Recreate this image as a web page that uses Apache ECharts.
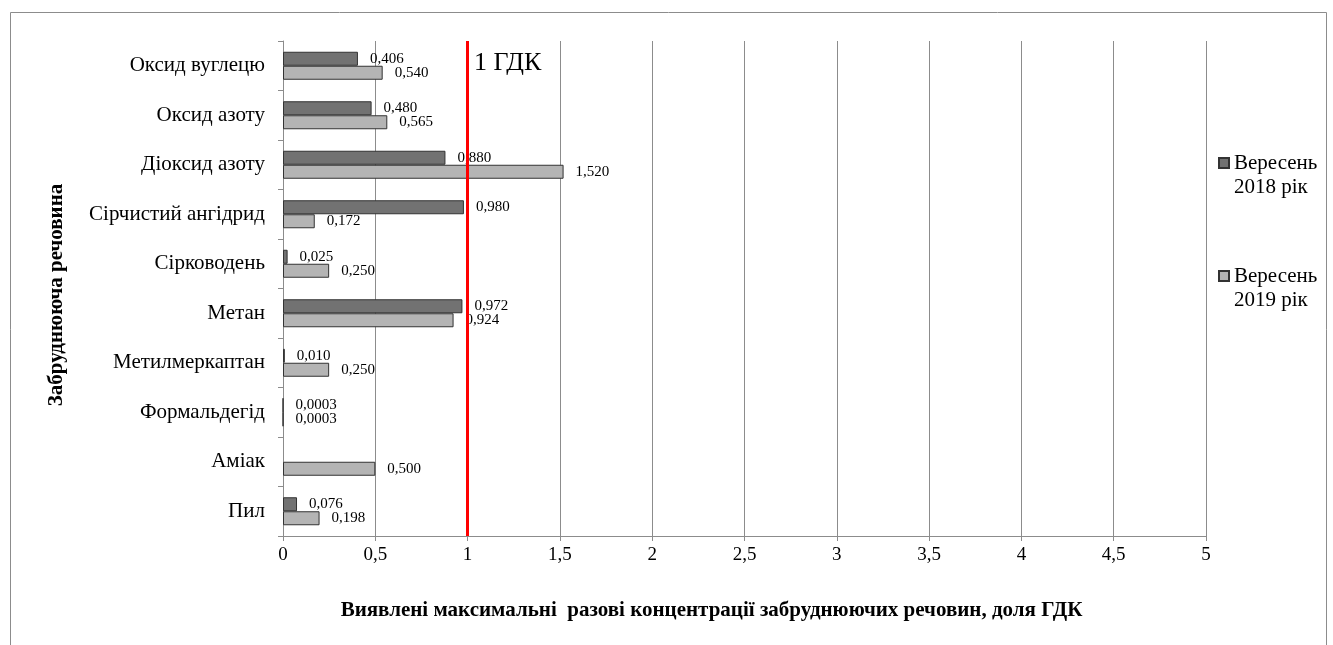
<!DOCTYPE html>
<html>
<head>
<meta charset="utf-8">
<script src="https://cdn.jsdelivr.net/npm/echarts@6/dist/echarts.min.js"></script>
<style>
  html, body { margin: 0; padding: 0; background: #fff; }
  #chart { width: 1333px; height: 645px; }
</style>
</head>
<body>
<div id="chart"></div>
<script>
// Pollutants and their maximum one-off concentrations (fraction of the limit value)
const categories = [
  'Оксид вуглецю', 'Оксид азоту', 'Діоксид азоту', 'Сірчистий ангідрид',
  'Сірководень', 'Метан', 'Метилмеркаптан', 'Формальдегід', 'Аміак', 'Пил'
];
const seriesNames = ['Вересень\n2018 рік', 'Вересень\n2019 рік'];
const sept2018 = [0.406, 0.480, 0.880, 0.980, 0.025, 0.972, 0.010, 0.0003, null, 0.076];
const sept2019 = [0.540, 0.565, 1.520, 0.172, 0.250, 0.924, 0.250, 0.0003, 0.500, 0.198];
const limitValue = 1;
const limitText = '1 ГДК';
const xAxisTitle = 'Виявлені максимальні  разові концентрації забруднюючих речовин, доля ГДК';
const yAxisTitle = 'Забруднююча речовина';

const serif = "'Liberation Serif', 'Times New Roman', serif";
const comma = s => String(s).replace('.', ',');
const fmtValue = v => comma(v < 0.001 ? v.toFixed(4) : v.toFixed(3));

const chart = echarts.init(document.getElementById('chart'), null, { renderer: 'canvas' });

const barLabel = {
  show: true,
  position: 'right',
  distance: 12,
  fontFamily: serif,
  fontSize: 15,
  color: '#000',
  formatter: p => fmtValue(p.value)
};

chart.setOption({
  animation: false,
  backgroundColor: '#fff',
  grid: { left: 283, right: 127, top: 41, bottom: 109, containLabel: false },
  legend: {
    orient: 'vertical',
    left: 1218,
    top: 127,
    padding: 0,
    itemWidth: 10,
    itemHeight: 10,
    itemGap: 41,
    icon: 'rect',
    // leading blank line keeps the swatch level with the first text line
    formatter: name => '\u00a0\n' + name,
    textStyle: { fontFamily: serif, fontSize: 21, color: '#000', lineHeight: 24 },
    data: seriesNames
  },
  xAxis: {
    type: 'value',
    min: 0, max: 5, interval: 0.5,
    axisLine: { show: true, lineStyle: { color: '#8c8c8c', width: 1 } },
    axisTick: { show: true, length: 5, lineStyle: { color: '#8c8c8c' } },
    splitLine: { show: true, lineStyle: { color: '#8c8c8c', width: 1 } },
    axisLabel: { fontFamily: serif, fontSize: 19, color: '#000', margin: 10, formatter: v => comma(v) },
    name: xAxisTitle,
    nameLocation: 'middle',
    nameGap: 64,
    nameTextStyle: { fontFamily: serif, fontSize: 21, fontWeight: 'bold', color: '#000', padding: [0, 66, 0, 0] }
  },
  yAxis: {
    type: 'category',
    inverse: true,
    data: categories,
    axisLine: { show: true, lineStyle: { color: '#8c8c8c', width: 1 } },
    axisTick: { show: true, length: 5, lineStyle: { color: '#8c8c8c' } },
    axisLabel: { fontFamily: serif, fontSize: 21, color: '#000', margin: 18 },
    name: yAxisTitle,
    nameLocation: 'middle',
    nameRotate: 90,
    nameGap: 216,
    nameTextStyle: { fontFamily: serif, fontSize: 21, fontWeight: 'bold', color: '#000', padding: [0, 13, 0, 0] }
  },
  series: [
    {
      name: seriesNames[0],
      type: 'bar',
      data: sept2018,
      barWidth: 14,
      barGap: '0%',
      itemStyle: { color: '#727272', borderColor: '#333', borderWidth: 1 },
      label: barLabel,
      markLine: {
        silent: true,
        symbol: 'none',
        label: { show: false },
        lineStyle: { color: '#ff0000', width: 3, type: 'solid' },
        data: [{ xAxis: limitValue }]
      }
    },
    {
      name: seriesNames[1],
      type: 'bar',
      data: sept2019,
      barWidth: 14,
      barGap: '0%',
      itemStyle: { color: '#b4b4b4', borderColor: '#333', borderWidth: 1 },
      label: barLabel
    }
  ],
  graphic: [
    {
      type: 'rect',
      shape: { x: 10.5, y: 12.5, width: 1316, height: 700 },
      style: { fill: 'none', stroke: '#8c8c8c', lineWidth: 1 },
      silent: true, z: -1
    },
    {
      type: 'text',
      left: 474, top: 50,
      style: { text: limitText, fontFamily: serif, fontSize: 26, fill: '#000' }
    }
  ]
});
</script>
</body>
</html>
